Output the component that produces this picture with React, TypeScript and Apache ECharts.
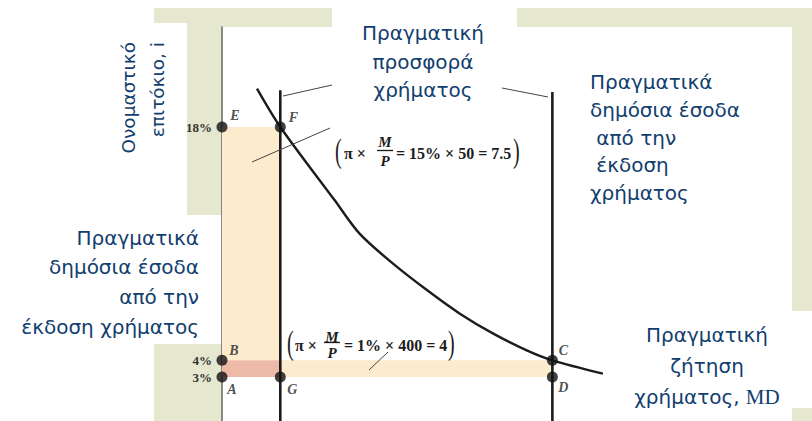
import React, { useEffect, useRef } from "react";
import * as echarts from "echarts";

// ---- data ----
const X_MIN = -25; // value where the vertical (interest-rate) axis sits
const X_MAX = 725;
const Y_MIN = 0;
const Y_MAX = 24;

// real money demand curve MD: real balances M/P vs nominal interest rate i (%)
const DEMAND_MP = [20, 50, 120, 152, 195, 239, 281, 324, 367, 400, 465];
const DEMAND_I = [20.3, 18, 13.6, 11.6, 9.8, 8.2, 6.8, 5.6, 4.6, 4, 3.2];

// real money supply (vertical lines)
const SUPPLY_MP = [50, 400];
const SUPPLY_TOP_I = [20.2, 20.1];

// labelled points
const POINT_NAMES = ["E", "F", "B", "A", "G", "C", "D"];
const POINT_MP = [X_MIN, 50, X_MIN, X_MIN, 50, 400, 400];
const POINT_I = [18, 18, 4, 3, 3, 4, 3];

// y tick labels
const TICK_VALUES = [3, 4, 18];

// shaded revenue areas [x0, y0, x1, y1]
const AREA_HIGH = [X_MIN, 4, 50, 18];
const AREA_OVERLAP = [X_MIN, 3, 50, 4];
const AREA_LOW = [50, 3, 400, 4];

// ---- styles ----
const GREEN = "#E5E8CF";
const BLUE = "#113E6E";
const INK = "#1c1c1c";
const LIGHT_ORANGE = "#FDEBCD";
const PINK = "#EDBAA8";
const SANS = "DejaVu Sans";
const SERIF = "Liberation Serif";

const LABEL_OFFSETS: Record<string, [number, number]> = {
  E: [13, -12],
  F: [13, -10],
  B: [12, -10],
  A: [10, 12],
  G: [12, 12],
  C: [11, -10],
  D: [11, 10],
};

function txt(text: string, x: number, y: number, opts: any = {}): any {
  const align = opts.align || "left";
  const vAlign = opts.verticalAlign || "middle";
  return {
    type: "text",
    z: 20,
    rotation: opts.rotation || 0,
    scaleY: opts.scaleY || 1,
    x,
    y,
    style: {
      text,
      x: 0,
      y: 0,
      fill: opts.fill || INK,
      fontSize: opts.fontSize || 16,
      fontFamily: opts.fontFamily || SERIF,
      fontWeight: opts.fontWeight || "normal",
      fontStyle: opts.fontStyle || "normal",
      lineHeight: opts.lineHeight,
      align,
      textAlign: align,
      verticalAlign: vAlign,
      textVerticalAlign: vAlign,
      rich: opts.rich,
    },
  };
}

function rect(x: number, y: number, w: number, h: number, fill: string): any {
  return { type: "rect", z: -10, shape: { x, y, width: w, height: h }, style: { fill } };
}

function seg(x1: number, y1: number, x2: number, y2: number, w = 1, c = "#444"): any {
  return {
    type: "line",
    z: 15,
    shape: { x1, y1, x2, y2 },
    style: { stroke: c, lineWidth: w },
  };
}

function formula(
  left: number,
  cy: number,
  piX: number,
  fracX: number,
  rest: string,
  restX: number,
  closeX: number,
  mDy: number,
  pDy: number
): any[] {
  const f = { fontWeight: "bold", fontSize: 16 };
  const fr = { fontWeight: "bold", fontSize: 15, fontStyle: "italic", align: "center", lineHeight: 13 };
  const paren = { fontSize: 20, scaleY: 1.65 };
  return [
    txt("(", left, cy - 1, paren),
    txt("π ×", piX, cy + 1, f),
    txt("M", fracX, cy + mDy, fr),
    seg(fracX - 8, cy - 1.5, fracX + 8, cy - 1.5, 1.3, INK),
    txt("P", fracX, cy + pDy, fr),
    txt(rest, restX, cy + 1, f),
    txt(")", closeX, cy - 1, paren),
  ];
}

export default function App() {
  const ref = useRef<HTMLDivElement>(null);

  useEffect(() => {
    if (!ref.current) return;
    const chart = echarts.init(ref.current, null, { renderer: "svg" });

    const demand = DEMAND_MP.map((x, i) => [x, DEMAND_I[i]]);
    const supplySeries = SUPPLY_MP.map((x, i) => ({
      type: "line",
      z: 4,
      symbol: "none",
      silent: true,
      lineStyle: { color: INK, width: 2.6 },
      data: [
        [x, SUPPLY_TOP_I[i]],
        [x, Y_MIN],
      ],
    }));
    const points = POINT_NAMES.map((n, i) => ({
      name: n,
      value: [POINT_MP[i], POINT_I[i]],
      label: { offset: LABEL_OFFSETS[n] },
    }));
    const area = (a: number[], color: string) => [
      { coord: [a[0], a[1]], itemStyle: { color } },
      { coord: [a[2], a[3]] },
    ];

    const graphics: any[] = [
      // green frame pieces
      rect(154, 8, 178, 15, GREEN),
      rect(187, 8, 35, 207, GREEN),
      rect(222, 8, 110, 19, GREEN),
      rect(154, 344, 68, 77, GREEN),
      rect(517, 8, 295, 19, GREEN),
      rect(792, 8, 20, 303, GREEN),
      rect(792, 408, 20, 13, GREEN),
      // leader lines
      seg(283, 96, 332, 85),
      seg(502, 88, 548, 97),
      seg(252, 162, 330, 128),
      seg(369, 370, 388, 352),
      // captions
      txt("Ονομαστικό\nεπιτόκιο, i", 113.5, 42, {
        rotation: Math.PI / 2,
        align: "right",
        verticalAlign: "top",
        fontFamily: SANS,
        fontSize: 18.5,
        lineHeight: 29,
        fill: BLUE,
      }),
      txt("Πραγματική\nπροσφορά\nχρήματος", 423, 19, {
        align: "center",
        verticalAlign: "top",
        fontFamily: SANS,
        fontSize: 20,
        lineHeight: 28.5,
        fill: BLUE,
      }),
      txt("Πραγματικά\nδημόσια έσοδα\n\u00a0από την\n\u00a0έκδοση\nχρήματος", 590, 68, {
        align: "left",
        verticalAlign: "top",
        fontFamily: SANS,
        fontSize: 20,
        lineHeight: 27.8,
        fill: BLUE,
      }),
      txt("Πραγματικά\nδημόσια έσοδα\nαπό την\nέκδοση χρήματος", 199, 223, {
        align: "right",
        verticalAlign: "top",
        fontFamily: SANS,
        fontSize: 20,
        lineHeight: 29.6,
        fill: BLUE,
      }),
      txt("Πραγματική\nζήτηση\nχρήματος, {s|MD}", 707, 319.5, {
        align: "center",
        verticalAlign: "top",
        fontFamily: SANS,
        fontSize: 20,
        lineHeight: 31,
        fill: BLUE,
        rich: { s: { fontFamily: SERIF, fontSize: 21, fill: BLUE, lineHeight: 31 } },
      }),
      ...formula(335, 152, 344, 385, "= 15% × 50 = 7.5", 396, 513, -10, 9),
      ...formula(287, 344, 295, 332, "= 1% × 400 = 4", 344, 448, -7.5, 8.5),
    ];

    chart.setOption({
      animation: false,
      backgroundColor: "#ffffff",
      grid: { left: 222, top: 27, width: 583, height: 400, outerBoundsMode: "none", containLabel: false },
      xAxis: { type: "value", min: X_MIN, max: X_MAX, show: false },
      yAxis: {
        type: "value",
        min: Y_MIN,
        max: Y_MAX,
        interval: 1,
        axisLine: { show: true, onZero: false, lineStyle: { color: "#666", width: 1.5 } },
        axisTick: { show: false },
        splitLine: { show: false },
        axisLabel: {
          margin: 10,
          color: "#333",
          fontFamily: SERIF,
          fontWeight: "bold",
          fontSize: 13,
          formatter: (v: number) => (TICK_VALUES.includes(v) ? v + "%" : ""),
        },
      },
      graphic: { elements: graphics },
      series: [
        {
          type: "line",
          z: 1,
          silent: true,
          data: [],
          markArea: {
            silent: true,
            data: [area(AREA_HIGH, LIGHT_ORANGE), area(AREA_OVERLAP, PINK), area(AREA_LOW, LIGHT_ORANGE)],
          },
        },
        {
          type: "line",
          z: 4,
          symbol: "none",
          silent: true,
          smooth: 0.3,
          lineStyle: { color: INK, width: 2.4 },
          data: demand,
        },
        ...supplySeries,
        {
          type: "scatter",
          z: 6,
          symbolSize: 11,
          itemStyle: { color: "#111" },
          label: {
            show: true,
            position: "inside",
            formatter: "{b}",
            color: "#222",
            fontFamily: SERIF,
            fontStyle: "italic",
            fontWeight: "bold",
            fontSize: 14,
          },
          data: points,
        },
      ],
    });

    return () => chart.dispose();
  }, []);

  return (
    <div
      ref={ref}
      style={{ position: "absolute", left: 0, top: 0, width: 812, height: 421 }}
    />
  );
}
